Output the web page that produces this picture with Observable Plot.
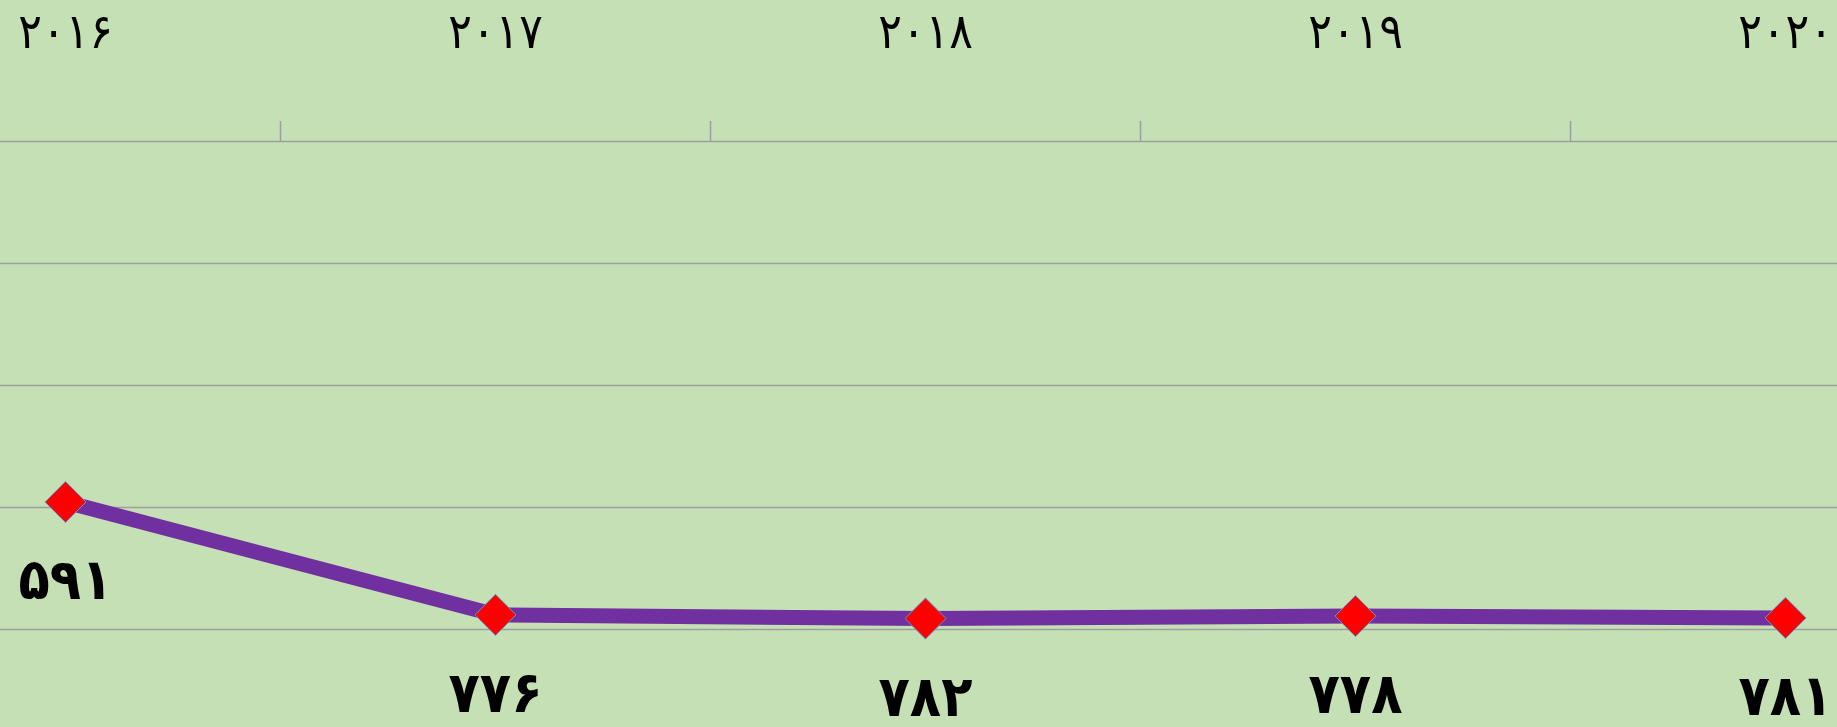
<!DOCTYPE html>
<html>
<head>
<meta charset="utf-8">
<script src="https://cdn.jsdelivr.net/npm/d3@7"></script>
<script src="https://cdn.jsdelivr.net/npm/@observablehq/plot@0.6"></script>
<style>
  html, body { margin: 0; padding: 0; background: #c5e0b4; }
  #chart svg { display: block; }
</style>
</head>
<body>
<div id="chart"></div>
<script>
const years = [2016, 2017, 2018, 2019, 2020];
const yearLabels = ["۲۰۱۶", "۲۰۱۷", "۲۰۱۸", "۲۰۱۹", "۲۰۲۰"];
const values = [591, 776, 782, 778, 781];
const valueLabels = ["۵۹۱", "۷۷۶", "۷۸۲", "۷۷۸", "۷۸۱"];
const gridValues = [0, 200, 400, 600, 800];
const categoryBoundaries = [2016.5, 2017.5, 2018.5, 2019.5];

const data = years.map((year, i) => ({year, value: values[i], label: valueLabels[i]}));
const font = "'DejaVu Sans Condensed', 'DejaVu Sans', sans-serif";

// visible window: the first and last categories sit close to the picture's edges
const xDomain = [2016 - 65 / 430, 2020 + 52 / 430];

const chart = Plot.plot({
  width: 1837,
  height: 727,
  marginLeft: 0,
  marginRight: 0,
  marginTop: 141,
  marginBottom: 98,
  style: {background: "#c5e0b4", fontFamily: font, overflow: "visible"},
  x: {domain: xDomain, label: null},
  y: {domain: [0, 800], reverse: true, axis: null, label: null},
  marks: [
    Plot.gridY(gridValues, {stroke: "#9e9e9e", strokeOpacity: 1, strokeWidth: 1.3}),
    Plot.axisX(categoryBoundaries, {anchor: "top", tickSize: 21, tickFormat: () => "", label: null, stroke: "#9e9e9e", strokeWidth: 1.5, strokeOpacity: 1}),
    Plot.axisX(years, {anchor: "top", tickSize: 0, tickPadding: 94, label: null, tickFormat: d => yearLabels[years.indexOf(d)], fontSize: 49, fill: "#000", fontFamily: font}),
    Plot.line(data, {x: "year", y: "value", stroke: "#7030a0", strokeWidth: 15}),
    Plot.dot(data, {x: "year", y: "value", symbol: "diamond2", r: 18.5, fill: "#ff0000", stroke: "#5b9bd5", strokeWidth: 1}),
    Plot.text(data, {x: "year", y: "value", text: "label", dy: 79, fontSize: 57, fontWeight: "bold", fill: "#000", fontFamily: font})
  ]
});
document.getElementById("chart").append(chart);
</script>
</body>
</html>
